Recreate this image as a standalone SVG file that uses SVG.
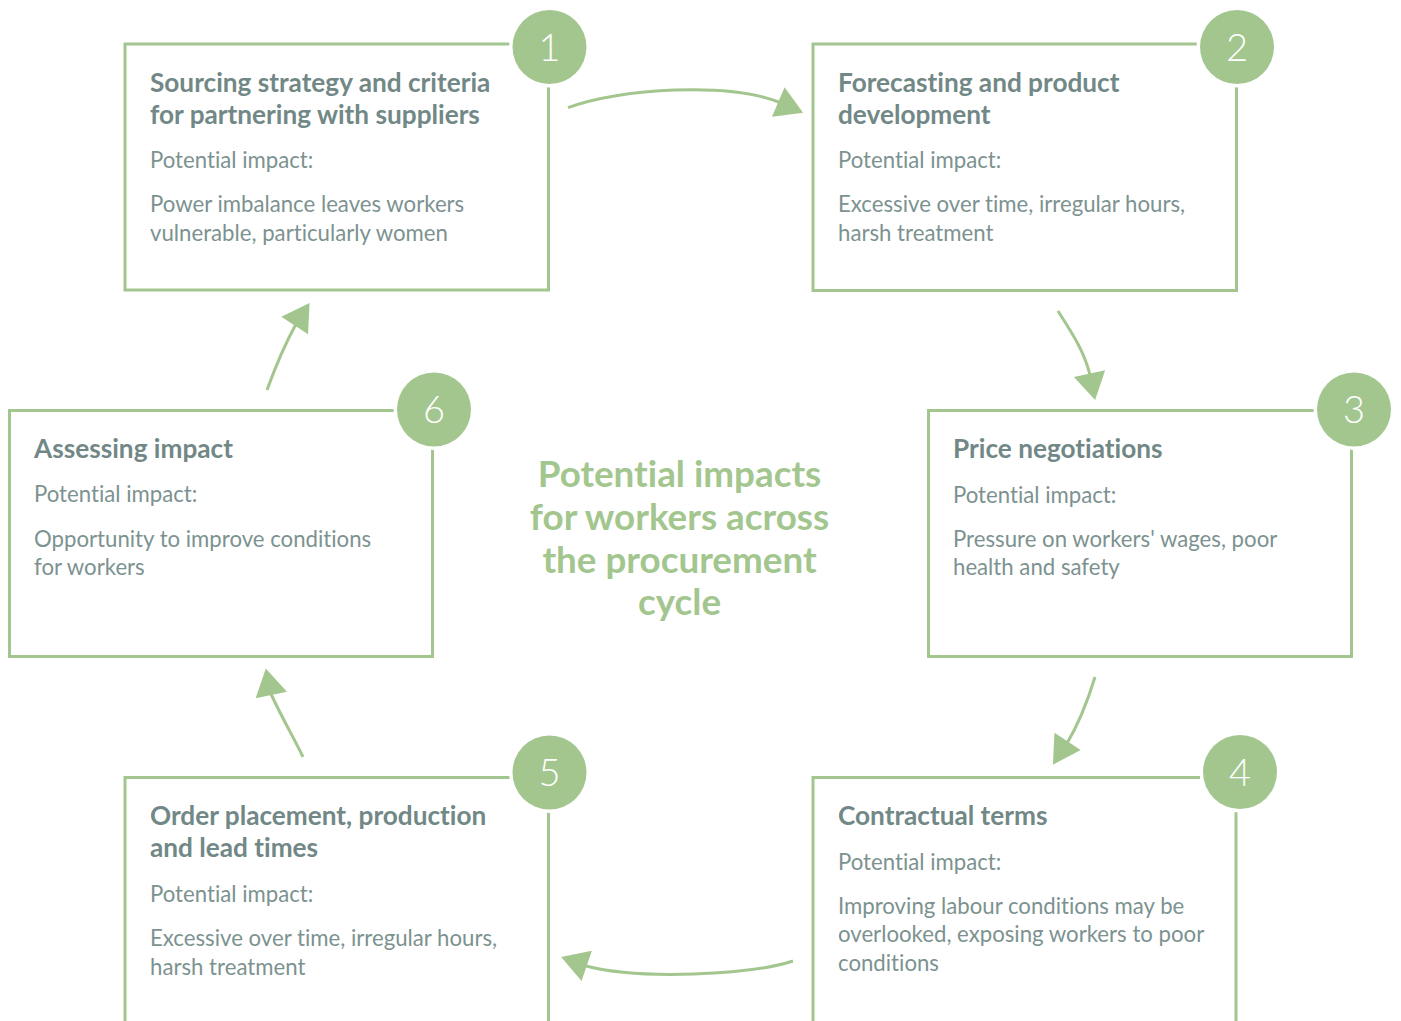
<svg xmlns="http://www.w3.org/2000/svg" xmlns:xlink="http://www.w3.org/1999/xlink" width="1401" height="1021" viewBox="0 0 1401 1021">
<style>
text{font-variant-ligatures:none}
.box{fill:none;stroke:#a3c68f;stroke-width:3}
.badge{fill:#a3c68f;stroke:#ffffff;stroke-width:7;paint-order:stroke}
.num{fill:#ffffff;font-family:Lato,"Open Sans",sans-serif;font-weight:300;font-size:38px;text-anchor:middle}
.h{fill:#718886;font-family:Lato,"Open Sans",sans-serif;font-weight:700;font-size:26.2px}
.t{fill:#7c9290;font-family:Lato,"Open Sans",sans-serif;font-weight:400;font-size:22.2px}
.title{fill:#a3c68f;font-family:Lato,"Open Sans",sans-serif;font-weight:700;font-size:36.8px;text-anchor:middle}
.conn{fill:none;stroke:#a3c68f;stroke-width:3}
.head{fill:#a3c68f}
</style>
<defs>
<path id="arrowhead" d="M0,-16 L27,0 L0,16 Z"/>
</defs>
<rect width="1401" height="1021" fill="#ffffff"/>

<g id="connectors">
<path class="conn" d="M568,107.7 C620,88 730,82 780,102.5"/>
<use class="head" xlink:href="#arrowhead" transform="translate(778.3,102) rotate(23.2)"/>
<path class="conn" d="M1058,311 C1070,330 1084,350 1090,375"/>
<use class="head" xlink:href="#arrowhead" transform="translate(1089.5,373.7) rotate(77.9)"/>
<path class="conn" d="M1095,677 C1088,700 1080,722 1066,745"/>
<use class="head" xlink:href="#arrowhead" transform="translate(1053.7,748.7) rotate(2.7)"/>
<path class="conn" d="M793,961 C750,975 640,980 586,966"/>
<use class="head" xlink:href="#arrowhead" transform="translate(586.7,965.8) rotate(198.8)"/>
<path class="conn" d="M303,757 C295,740 283,720 271,694"/>
<use class="head" xlink:href="#arrowhead" transform="translate(271.3,695) rotate(-101.8)"/>
<path class="conn" d="M267,390 C275,368 284,346 296,324"/>
<use class="head" xlink:href="#arrowhead" transform="translate(294.7,325.5) rotate(-56.6)"/>
</g>

<g id="node1">
<rect class="box" x="125" y="44" width="423.5" height="246"/>
<circle class="badge" cx="549.5" cy="47" r="37"/>
<text class="num" x="549.5" y="60.5">1</text>
<text class="h" x="150" y="92">Sourcing strategy and criteria</text>
<text class="h" x="150" y="123.5">for partnering with suppliers</text>
<text class="t" x="150" y="168">Potential impact:</text>
<text class="t" x="150" y="212">Power imbalance leaves workers</text>
<text class="t" x="150" y="240.5">vulnerable, particularly women</text>
</g>

<g id="node2">
<rect class="box" x="813" y="44" width="423.5" height="246.5"/>
<circle class="badge" cx="1237" cy="47" r="37"/>
<text class="num" x="1237" y="60.5">2</text>
<text class="h" x="838" y="92">Forecasting and product</text>
<text class="h" x="838" y="123.5">development</text>
<text class="t" x="838" y="168">Potential impact:</text>
<text class="t" x="838" y="212">Excessive over time, irregular hours,</text>
<text class="t" x="838" y="240.5">harsh treatment</text>
</g>

<g id="node3">
<rect class="box" x="928.5" y="410.5" width="423" height="246"/>
<circle class="badge" cx="1354" cy="409.5" r="37"/>
<text class="num" x="1354" y="423">3</text>
<text class="h" x="953" y="458">Price negotiations</text>
<text class="t" x="953" y="502.5">Potential impact:</text>
<text class="t" x="953" y="546.5">Pressure on workers' wages, poor</text>
<text class="t" x="953" y="575">health and safety</text>
</g>

<g id="node4">
<rect class="box" x="813" y="777.5" width="423" height="260"/>
<circle class="badge" cx="1240" cy="772" r="37"/>
<text class="num" x="1240" y="785.5">4</text>
<text class="h" x="838" y="825">Contractual terms</text>
<text class="t" x="838" y="869.5">Potential impact:</text>
<text class="t" x="838" y="913.5">Improving labour conditions may be</text>
<text class="t" x="838" y="942">overlooked, exposing workers to poor</text>
<text class="t" x="838" y="970.5">conditions</text>
</g>

<g id="node5">
<rect class="box" x="125" y="777.5" width="423.5" height="260"/>
<circle class="badge" cx="549.5" cy="772.5" r="37"/>
<text class="num" x="549.5" y="786">5</text>
<text class="h" x="150" y="825">Order placement, production</text>
<text class="h" x="150" y="856.5">and lead times</text>
<text class="t" x="150" y="901.5">Potential impact:</text>
<text class="t" x="150" y="946">Excessive over time, irregular hours,</text>
<text class="t" x="150" y="974.5">harsh treatment</text>
</g>

<g id="node6">
<rect class="box" x="9.5" y="410.5" width="423" height="246"/>
<circle class="badge" cx="434" cy="409.5" r="37"/>
<text class="num" x="434" y="423">6</text>
<text class="h" x="34" y="458">Assessing impact</text>
<text class="t" x="34" y="502">Potential impact:</text>
<text class="t" x="34" y="546.5">Opportunity to improve conditions</text>
<text class="t" x="34" y="575">for workers</text>
</g>

<g id="center-title">
<text class="title" x="679.5" y="487">Potential impacts</text>
<text class="title" x="679.5" y="530">for workers across</text>
<text class="title" x="679.5" y="573">the procurement</text>
<text class="title" x="679.5" y="615">cycle</text>
</g>
</svg>
